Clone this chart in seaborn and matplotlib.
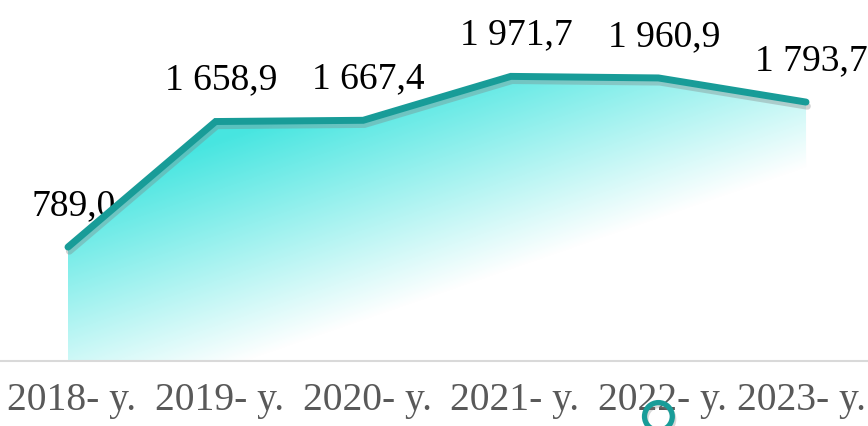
import numpy as np
import pandas as pd
import matplotlib
matplotlib.use("Agg")
import matplotlib.pyplot as plt
import matplotlib.patheffects as pe
import matplotlib.transforms as mtransforms
from matplotlib.patches import Polygon
import seaborn as sns

# data
years = ["2018- y.", "2019- y.", "2020- y.", "2021- y.", "2022- y.", "2023- y."]
values = [789.0, 1658.9, 1667.4, 1971.7, 1960.9, 1793.7]

sns.set_style("white")
plt.rcParams["font.family"] = ["Liberation Serif", "DejaVu Serif"]

W, H = 868, 426
fig = plt.figure(figsize=(W / 100, H / 100), dpi=100)
ax = fig.add_axes([0, 0, 1, 1])

df = pd.DataFrame({"year": years, "value": values})
df["pos"] = np.arange(len(df))

xlim = (-0.4607, 5.420)
ylim = (-451, 2501)
ax.set_xlim(*xlim)
ax.set_ylim(*ylim)

teal = "#189C98"

# gradient fill: cyan top-left fading to white bottom-right
px, py = np.meshgrid(np.arange(W), np.arange(H))
t = np.clip((0.345 * px + py - 215) / 230, 0, 1)
cyan = np.array([0.28, 0.90, 0.88])
white = np.array([1.0, 1.0, 1.0])
img = cyan[None, None, :] * (1 - t[..., None]) + white[None, None, :] * t[..., None]

verts = [(df["pos"].iloc[0], 0)] + list(zip(df["pos"], df["value"])) + [(df["pos"].iloc[-1], 0)]
poly = Polygon(verts, closed=True, facecolor="none", edgecolor="none", transform=ax.transData)
ax.add_patch(poly)
im = ax.imshow(img, extent=(xlim[0], xlim[1], ylim[0], ylim[1]), origin="upper",
               aspect="auto", zorder=1)
im.set_clip_path(poly)

sns.lineplot(data=df, x="pos", y="value", ax=ax, color=teal, linewidth=5,
             solid_capstyle="round", solid_joinstyle="miter", zorder=3,
             path_effects=[pe.SimpleLineShadow(offset=(1, -3), shadow_color="gray", alpha=0.35),
                           pe.Normal()])

# data labels
for x, v in zip(df["pos"], df["value"]):
    lab = f"{v:,.1f}".replace(",", " ").replace(".", ",")
    ax.annotate(lab, (x, v), xytext=(4, 23), textcoords="offset points",
                ha="center", va="baseline", fontsize=27, color="black", zorder=2)

# decorative ring near the 2022 label
ax.plot([4], [-385], marker="o", markersize=20, markerfacecolor="none",
        markeredgecolor=teal, markeredgewidth=3.8, clip_on=False, zorder=5,
        path_effects=[pe.SimpleLineShadow(offset=(1, -2), shadow_color="gray", alpha=0.3),
                      pe.Normal()])

ax.spines[["top", "left", "right"]].set_visible(False)
ax.spines["bottom"].set_position(("data", 0))
ax.spines["bottom"].set_color("#D9D9D9")
ax.spines["bottom"].set_linewidth(1.5)
ax.set_xticks(df["pos"])
ax.set_xticklabels(years, fontsize=28.5, color="#595959")
ax.tick_params(axis="x", length=0, pad=15)
labels = ax.get_xticklabels()
for i, lbl in enumerate(labels):
    dx = 4 if i < len(labels) - 1 else -5
    shift = mtransforms.ScaledTranslation(dx / 100, 0, fig.dpi_scale_trans)
    lbl.set_transform(lbl.get_transform() + shift)
ax.set_yticks([])
ax.set_xlabel("")
ax.set_ylabel("")

fig.savefig("out.png", dpi=100)
